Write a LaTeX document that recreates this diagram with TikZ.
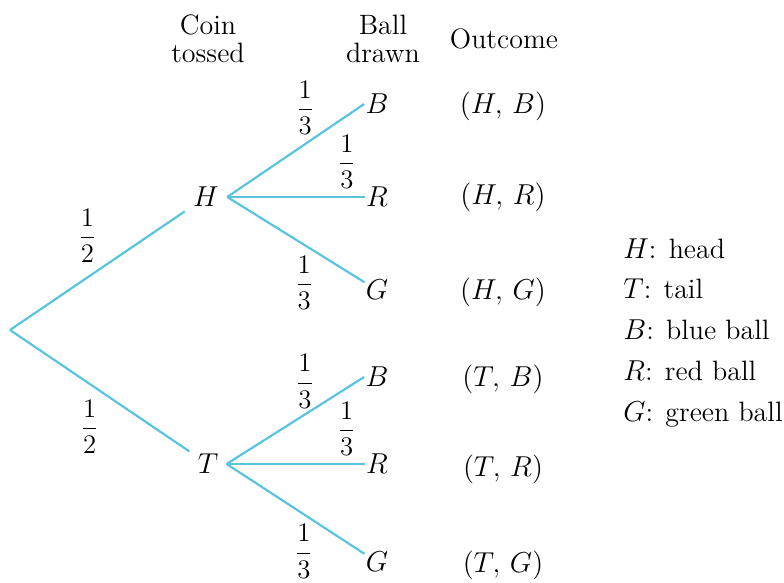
\documentclass[tikz,border=0pt]{standalone}
\usepackage{amsmath}
\usepackage{graphicx}
\usepackage{tikz}
\usetikzlibrary{positioning}
\definecolor{branchblue}{RGB}{90,196,222}
\newcommand{\probfrac}[2]{\scalebox{0.93}{$\dfrac{#1}{#2}$}}

\begin{document}
\begin{tikzpicture}[
    x=0.5pt, y=-0.5pt,
    every node/.style={font=\fontsize{14}{14}\selectfont},
    head/.style={align=center, inner sep=0pt},
    coin/.style={inner sep=4pt},
    ball/.style={inner sep=0.5pt},
    outc/.style={inner sep=0pt},
    prob/.style={inner sep=0pt},
    branch/.style={draw=branchblue, line width=1.1pt}
]
\useasboundingbox (0,0) rectangle (784,583);

\node[head] (hcoin) at (208,39) {Coin\\tossed};
\node[head] (hball) at (383,39) {Ball\\drawn};
\node[head] (hout) at (504,39) {Outcome};

\coordinate (root) at (10,330);
\node[coin] (H) at (206,197) {$H$};
\node[coin] (T) at (208,464) {$T$};

\node[ball] (HB) at (377,104) {$B$};
\node[ball] (HR) at (377,197) {$R$};
\node[ball] (HG) at (377,290) {$G$};
\node[ball] (TB) at (377,377) {$B$};
\node[ball] (TR) at (377,464) {$R$};
\node[ball] (TG) at (377,562) {$G$};

\node[outc] (oHB) at (503,106) {$(H,\,B)$};
\node[outc] (oHR) at (503,197) {$(H,\,R)$};
\node[outc] (oHG) at (503,292) {$(H,\,G)$};
\node[outc] (oTB) at (503,379) {$(T,\,B)$};
\node[outc] (oTR) at (503,469) {$(T,\,R)$};
\node[outc] (oTG) at (503,565) {$(T,\,G)$};

\node[outc, align=left, anchor=north west, font=\fontsize{14}{20.4}\selectfont] (key) at (623,238)
    {$H$: head\\ $T$: tail\\ $B$: blue ball\\ $R$: red ball\\ $G$: green ball};

\draw[branch] (root) -- (H) node[prob, midway, above left=3.5pt and 0pt] {\probfrac{1}{2}};
\draw[branch] (root) -- (T) node[prob, midway, below left=4pt and 0pt] {\probfrac{1}{2}};

\draw[branch] (H.east) -- (HB.west) node[prob, pos=0.57, above=4pt] {\probfrac{1}{3}};
\draw[branch] (H.east) -- (HR) node[prob, pos=0.87, above=3.5pt] {\probfrac{1}{3}};
\draw[branch] (H.east) -- (HG) node[prob, pos=0.56, below=5pt] {\probfrac{1}{3}};

\draw[branch] (T.east) -- (TB.west) node[prob, pos=0.57, above=2.5pt] {\probfrac{1}{3}};
\draw[branch] (T.east) -- (TR) node[prob, pos=0.87, above=3.5pt] {\probfrac{1}{3}};
\draw[branch] (T.east) -- (TG) node[prob, pos=0.56, below=4.5pt] {\probfrac{1}{3}};

\end{tikzpicture}
\end{document}
